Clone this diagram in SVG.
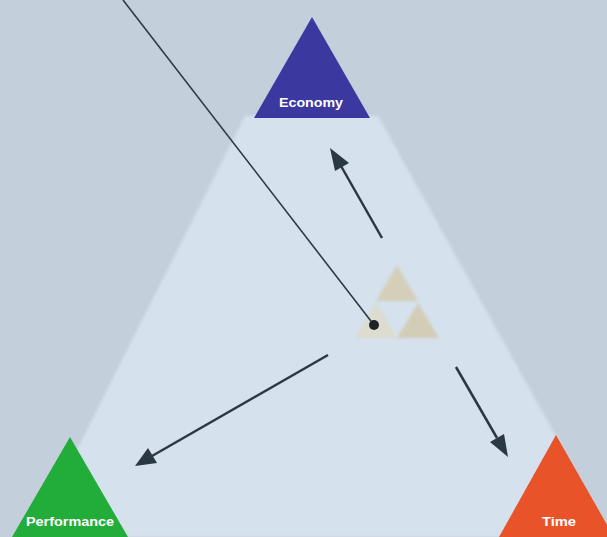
<svg xmlns="http://www.w3.org/2000/svg" width="607" height="537" viewBox="0 0 607 537">
  <defs>
    <filter id="soft" x="-20%" y="-20%" width="140%" height="140%">
      <feGaussianBlur stdDeviation="1.5"/>
    </filter>
    <filter id="softer" x="-10%" y="-10%" width="120%" height="120%">
      <feGaussianBlur stdDeviation="0.6"/>
    </filter>
  </defs>
  <style>
    .lbl { font-family: "Liberation Sans", Arial, sans-serif; font-weight: bold; fill: #ffffff; text-anchor: middle; font-size: 12px; }
    .arrow { stroke: #2c3843; stroke-width: 2.5; fill: none; }
    .ah { fill: #2c3843; }
  </style>
  <rect width="607" height="537" fill="#c4cfdc"/>
  <polygon points="245,116 378,116 612,537 33,537" fill="#d5e1ec" filter="url(#soft)"/>

  <g id="center-logo" filter="url(#soft)">
    <polygon points="397,265 418,301 376,301" fill="#d5cfba"/>
    <polygon points="418,303 439,338 397,338" fill="#d3cdb8"/>
    <polygon points="376,303 397,338 355,338" fill="#dcdccf"/>
  </g>

  <g id="connectors">
    <line x1="123" y1="0" x2="374" y2="325" stroke="#2e3a46" stroke-width="1.6" filter="url(#softer)"/>
    <circle cx="374" cy="325" r="5" fill="#1e2328"/>
    <g filter="url(#softer)">
      <line class="arrow" x1="382" y1="238" x2="341" y2="166"/>
      <polygon class="ah" points="330,148 349,163 335,171"/>
      <line class="arrow" x1="328" y1="355" x2="152" y2="456"/>
      <polygon class="ah" points="135,466 148,448 157,463"/>
      <line class="arrow" x1="456" y1="367" x2="497" y2="438"/>
      <polygon class="ah" points="508,457 490,442 504,434"/>
    </g>
  </g>

  <g id="economy">
    <polygon points="312,17 370,118 254,118" fill="#3b399f" filter="url(#softer)"/>
    <text class="lbl" x="311" y="107" textLength="64" lengthAdjust="spacingAndGlyphs">Economy</text>
  </g>
  <g id="performance">
    <polygon points="70,437 128,537 12,537" fill="#21ad3a" filter="url(#softer)"/>
    <text class="lbl" x="70" y="526" textLength="88" lengthAdjust="spacingAndGlyphs">Performance</text>
  </g>
  <g id="time">
    <polygon points="556,435 614,537 499,537" fill="#e8522b" filter="url(#softer)"/>
    <text class="lbl" x="559" y="526" textLength="34" lengthAdjust="spacingAndGlyphs">Time</text>
  </g>
</svg>
